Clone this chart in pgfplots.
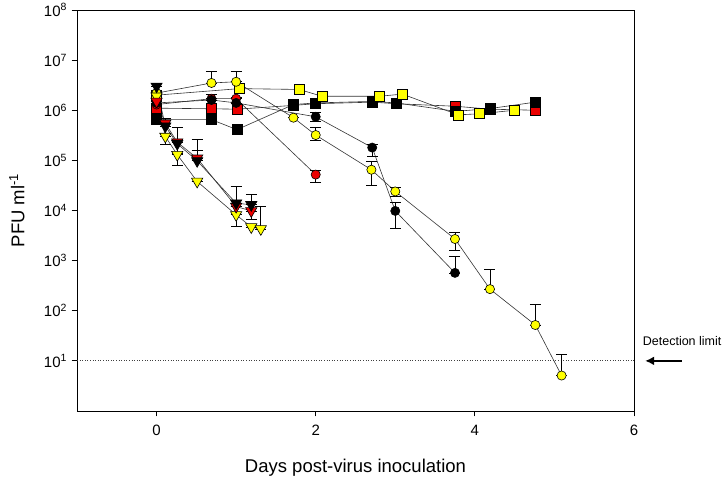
\documentclass[border=0pt]{standalone}
\usepackage{fontspec}
\setmainfont{Liberation Sans}
\usepackage{pgfplots}
\usepackage{pgfplotstable}
\usetikzlibrary{arrows.meta}
\pgfplotsset{compat=1.18}
\definecolor{ylw}{RGB}{255,255,0}
\definecolor{rd}{RGB}{235,0,0}

\pgfplotstableread{
x y ep em
0 2.2e6 0 0
0.69 3.5e6 2.4e6 0
1.0 3.7e6 2.3e6 0
1.72 7.1e5 0 0
2.0 3.2e5 1.3e5 0.7e5
2.7 6.5e4 3e4 3.3e4
3.0 2.4e4 0.5e4 0.5e4
3.75 2.7e3 0.9e3 1.1e3
4.19 270 410 0
4.76 52 83 0
5.09 5.1 8.4 0
}\ycirc
\pgfplotstableread{
x y ep em
0 1.4e6 0 0
0.69 1.6e6 0.5e6 0
1.0 1.4e6 0.4e6 0
2.0 7.4e5 1.5e5 1.5e5
2.71 1.8e5 0.3e5 0.6e5
3.0 9.8e3 0.5e4 0.53e4
3.75 570 650 0
}\bcirc
\pgfplotstableread{
x y ep em
0 1.3e6 0 0
0.69 1.7e6 0 0
1.0 1.7e6 0 0
2.0 5.2e4 1.1e4 1.5e4
}\rcirc
\pgfplotstableread{
x y
0 2.0e6
1.04 2.7e6
1.79 2.6e6
2.08 1.9e6
2.80 1.9e6
3.09 2.1e6
3.79 8.1e5
4.06 8.5e5
4.50 1.0e6
}\ysq
\pgfplotstableread{
x y
0 1.1e6
0.69 1.07e6
1.01 1.05e6
1.72 1.25e6
2.0 1.35e6
2.71 1.45e6
3.01 1.35e6
3.76 1.2e6
4.19 1.05e6
4.76 1.0e6
}\rsq
\pgfplotstableread{
x y
0 6.5e5
0.69 6.5e5
1.01 4.1e5
1.72 1.3e6
2.0 1.4e6
2.71 1.5e6
3.01 1.4e6
3.76 9.5e5
4.19 1.08e6
4.76 1.45e6
}\bsq
\pgfplotstableread{
x y ep em
0 3.0e6 0 0
0.11 4.8e5 2e5 0
0.26 2.15e5 2.5e5 0.8e5
0.51 9.8e4 1.6e5 0
1.0 1.4e4 1.7e4 0
1.19 1.3e4 0.8e4 0
}\btri
\pgfplotstableread{
x y ep em
0 1.5e6 0 0
0.11 5.5e5 0 0
0.26 2.3e5 0 0
0.51 1.1e5 0.5e5 0
1.0 1.2e4 0 0
1.19 9.8e3 0 3e3
}\rtri
\pgfplotstableread{
x y ep em
0 1.9e6 0 0
0.11 3.0e5 0 0.9e5
0.26 1.3e5 0 0.5e5
0.51 3.8e4 0 0
1.0 8.2e3 0 3.3e3
1.19 4.7e3 0 0
1.31 4.3e3 7.7e3 0
}\ytri

\begin{document}
\begin{tikzpicture}
\begin{axis}[
  scale only axis, width=557pt, height=401pt,
  xmin=-1, xmax=6, ymin=1, ymax=1e8, ymode=log,
  clip=false,
  xtick={0,2,4,6},
  ytick={10,100,1000,10000,100000,1000000,10000000,100000000},
  yticklabels={10\textsuperscript{1},10\textsuperscript{2},10\textsuperscript{3},10\textsuperscript{4},10\textsuperscript{5},10\textsuperscript{6},10\textsuperscript{7},10\textsuperscript{8}},
  yminorticks=false,
  tick align=outside, tick pos=left,
  major tick length=5.5pt,
  axis line style={line width=0.9pt},
  tick style={line width=0.9pt, black},
  /pgf/number format/assume math mode=true,
  ticklabel style={font=\fontsize{15}{17}\selectfont},
  yticklabel style={xshift=-1pt},
  xticklabel style={yshift=-5pt},
  xlabel={Days post-virus inoculation},
  ylabel={PFU ml\textsuperscript{-1}},
  label style={font=\fontsize{18.5}{22}\selectfont},
  xlabel style={at={(axis description cs:0.5,0)}, anchor=center, yshift=-57pt},
  ylabel style={at={(axis description cs:0,0.5)}, anchor=center, yshift=60pt},
  every axis plot/.append style={line width=0.6pt, draw=black!80},
  error bars/error bar style={line width=0.7pt, black},
  error bars/error mark options={rotate=90, mark size=5.5pt, line width=0.7pt, black},
]
\addplot[black!75, dotted, line width=0.9pt, forget plot] coordinates {(-1,10) (6,10)};

\addplot[mark=square*, mark size=5pt, mark options={fill=rd, draw=black}] table[x=x,y=y] {\rsq};
\addplot[mark=square*, mark size=5pt, mark options={fill=black, draw=black}] table[x=x,y=y] {\bsq};
\addplot[mark=square*, mark size=5pt, mark options={fill=ylw, draw=black}] table[x=x,y=y] {\ysq};

\addplot[mark=*, mark size=4.6pt, mark options={fill=rd, draw=black},
  error bars/.cd, y dir=both, y explicit] table[x=x,y=y,y error plus=ep,y error minus=em] {\rcirc};
\addplot[mark=*, mark size=4.6pt, mark options={fill=black, draw=black},
  error bars/.cd, y dir=both, y explicit] table[x=x,y=y,y error plus=ep,y error minus=em] {\bcirc};
\addplot[mark=*, mark size=4.6pt, mark options={fill=ylw, draw=black},
  error bars/.cd, y dir=both, y explicit] table[x=x,y=y,y error plus=ep,y error minus=em] {\ycirc};

\addplot[mark=triangle*, mark size=6.5pt, mark options={rotate=180, fill=ylw, draw=black},
  error bars/.cd, y dir=both, y explicit] table[x=x,y=y,y error plus=ep,y error minus=em] {\ytri};
\addplot[mark=triangle*, mark size=6.5pt, mark options={rotate=180, fill=rd, draw=black},
  error bars/.cd, y dir=both, y explicit] table[x=x,y=y,y error plus=ep,y error minus=em] {\rtri};
\addplot[mark=triangle*, mark size=6.5pt, mark options={rotate=180, fill=black, draw=black},
  error bars/.cd, y dir=both, y explicit] table[x=x,y=y,y error plus=ep,y error minus=em] {\btri};

\draw[-{Latex[length=9pt,width=9pt]}, line width=2.6pt, black] (axis cs:6.6,10) -- (axis cs:6.14,10);
\node[font=\fontsize{12.5}{14}\selectfont, anchor=center] at (axis cs:6.605,24.5) {Detection limit};

\path (rel axis cs:0,0) ++(-77pt,-70pt) coordinate (bbsw);
\path (rel axis cs:1,1) ++(92pt,10pt) coordinate (bbne);
\end{axis}
\useasboundingbox (bbsw) rectangle (bbne);
\end{tikzpicture}
\end{document}
